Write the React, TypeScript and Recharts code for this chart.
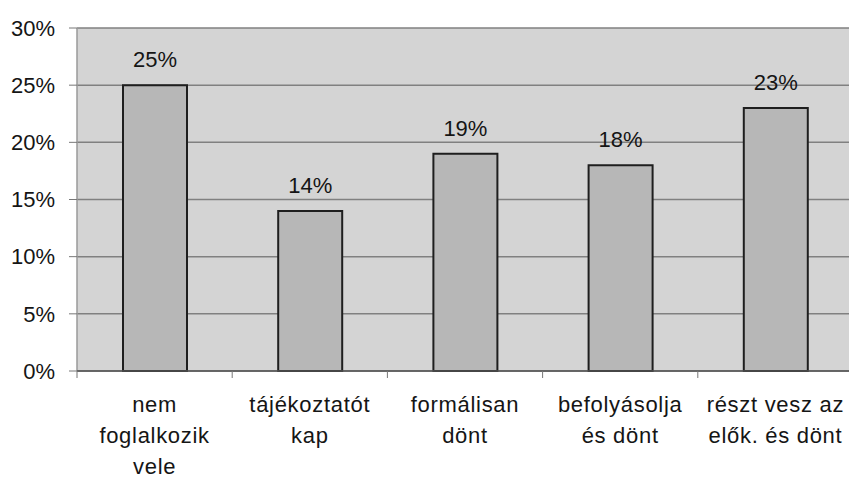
import React from "react";
import { BarChart, Bar, XAxis, YAxis, CartesianGrid, LabelList } from "recharts";

// survey shares per involvement level (percent)
const categories = [
  "nem\nfoglalkozik\nvele",
  "tájékoztatót\nkap",
  "formálisan\ndönt",
  "befolyásolja\nés dönt",
  "részt vesz az\nelők. és dönt",
];
const shares = [25, 14, 19, 18, 23];
const yTicks = [0, 5, 10, 15, 20, 25, 30];

const data = categories.map((name, i) => ({ name, value: shares[i] }));

const FONT = "'Liberation Sans', Arial, sans-serif";
const TEXT = "#151515";
const CHART_W = 853;
const CHART_H = 478;
const Y_AXIS_W = 77;

// category label split over several lines, plus an Excel-style tick on the band's left edge
function CategoryTick(props: any) {
  const { x, y, payload } = props;
  const half =
    payload && typeof payload.offset === "number" && payload.offset > 0
      ? payload.offset
      : (CHART_W - Y_AXIS_W) / categories.length / 2;
  const lines: string[] = String(payload.value).split("\n");
  return (
    <g>
      <line x1={x - half} x2={x - half} y1={y} y2={y + 7} stroke="#777" strokeWidth={1} />
      <text
        x={x}
        y={y + 41}
        textAnchor="middle"
        fill={TEXT}
        fontSize={22}
        fontFamily={FONT}
        letterSpacing={0.7}
      >
        {lines.map((ln, i) => (
          <tspan key={i} x={x} dy={i === 0 ? 0 : 31}>
            {ln}
          </tspan>
        ))}
      </text>
    </g>
  );
}

export default function App() {
  return (
    <div style={{ position: "fixed", left: 0, top: 0, width: 849, height: 478, overflow: "hidden", background: "#fff" }}>
      <BarChart width={CHART_W} height={CHART_H} data={data} margin={{ top: 28, right: 0, left: 0, bottom: 0 }}>
        <CartesianGrid vertical={false} fill="#d4d4d4" stroke="#808080" strokeWidth={1.5} />
        <YAxis
          width={Y_AXIS_W}
          domain={[0, 30]}
          ticks={yTicks}
          interval={0}
          tickFormatter={(v: number) => `${v}%`}
          tickSize={8}
          tickMargin={14}
          axisLine={{ stroke: "#9a9a9a", strokeWidth: 1.5 }}
          tickLine={{ stroke: "#777" }}
          tick={{ fill: TEXT, fontSize: 22, fontFamily: FONT }}
        />
        <XAxis
          dataKey="name"
          height={107}
          interval={0}
          tickSize={0}
          tickMargin={0}
          tickLine={false}
          axisLine={{ stroke: "#555", strokeWidth: 1.5 }}
          tick={<CategoryTick />}
        />
        <Bar dataKey="value" barSize={64} fill="#b7b7b7" stroke="#1e1e1e" strokeWidth={2} isAnimationActive={false}>
          <LabelList
            dataKey="value"
            position="top"
            offset={18}
            formatter={(v: any) => `${v}%`}
            style={{ fill: TEXT, fontSize: 22, fontFamily: FONT }}
          />
        </Bar>
      </BarChart>
    </div>
  );
}
